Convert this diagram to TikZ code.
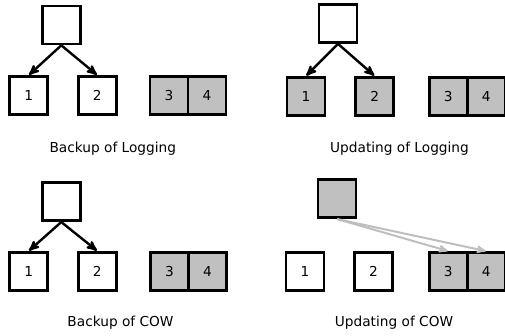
\documentclass[tikz,border=0pt]{standalone}
\usepackage{fontspec}
\setsansfont{DejaVu Sans}
\usetikzlibrary{arrows}
\definecolor{blkgray}{RGB}{192,192,192}
\definecolor{ptrgray}{RGB}{190,190,190}
\tikzset{
  blk/.style = {rectangle, draw=black, line width=2.7pt, minimum size=38pt,
    inner sep=0pt, font=\sffamily\fontsize{13.7}{16}\selectfont},% block
  blk_w/.style = {blk, fill=white},% block, untouched
  blk_g/.style = {blk, fill=blkgray},% block, written
  caption/.style = {anchor=base, font=\sffamily\fontsize{13.7}{16}\selectfont},
  ptr/.style = {->, >=stealth', line width=2.4pt, black, shorten >=0.5pt},
  ptr_g/.style = {ptr, ptrgray, line width=2pt},
}

\begin{document}
\begin{tikzpicture}[x=1pt,y=-1pt]
  \useasboundingbox (0,0) rectangle (505,336);
%   backup of logging
  \node[blk_w] (r1) at (61.3,25) {};
  \node[blk_w] (a1) at (28.7,95.5) {1};
  \node[blk_w] (a2) at (97.3,95.5) {2};
  \node[blk_g] (a3) at (169,95.5) {3};
  \node[blk_g] (a4) at (207,95.5) {4};
  \node[caption] (t1) at (112.8,152.3) {Backup of Logging};

  \path[ptr] (r1.south) edge (a1.north);
  \path[ptr] (r1.south) edge (a2.north);

%   updating of logging
  \node[blk_w] (r2) at (338,23.5) {};
  \node[blk_g] (b1) at (306,96.3) {1};
  \node[blk_g] (b2) at (374.7,96.3) {2};
  \node[blk_g] (b3) at (448.3,96.3) {3};
  \node[blk_g] (b4) at (486.3,96.3) {4};
  \node[caption] (t2) at (399.5,152.3) {Updating of Logging};

  \path[ptr] (r2.south) edge (b1.north);
  \path[ptr] (r2.south) edge (b2.north);

%   backup of COW
  \node[blk_w] (r3) at (61.3,201.7) {};
  \node[blk_w] (c1) at (28.7,271.3) {1};
  \node[blk_w] (c2) at (97.3,271.3) {2};
  \node[blk_g] (c3) at (169.5,271.3) {3};
  \node[blk_g] (c4) at (207.5,271.3) {4};
  \node[caption] (t3) at (120.5,326.7) {Backup of COW};

  \path[ptr] (r3.south) edge (c1.north);
  \path[ptr] (r3.south) edge (c2.north);

%   updating of COW
  \node[blk_g] (r4) at (337,198.7) {};
  \node[blk_w] (d1) at (305,271.5) {1};
  \node[blk_w] (d2) at (373.5,271.5) {2};
  \node[blk_g] (d3) at (448.3,271.5) {3};
  \node[blk_g] (d4) at (486.3,271.5) {4};
  \node[caption] (t4) at (394,326.7) {Updating of COW};

  \path[ptr_g] (r4.south) edge (d3.north);
  \path[ptr_g] (r4.south) edge (d4.north);
\end{tikzpicture}
\end{document}
